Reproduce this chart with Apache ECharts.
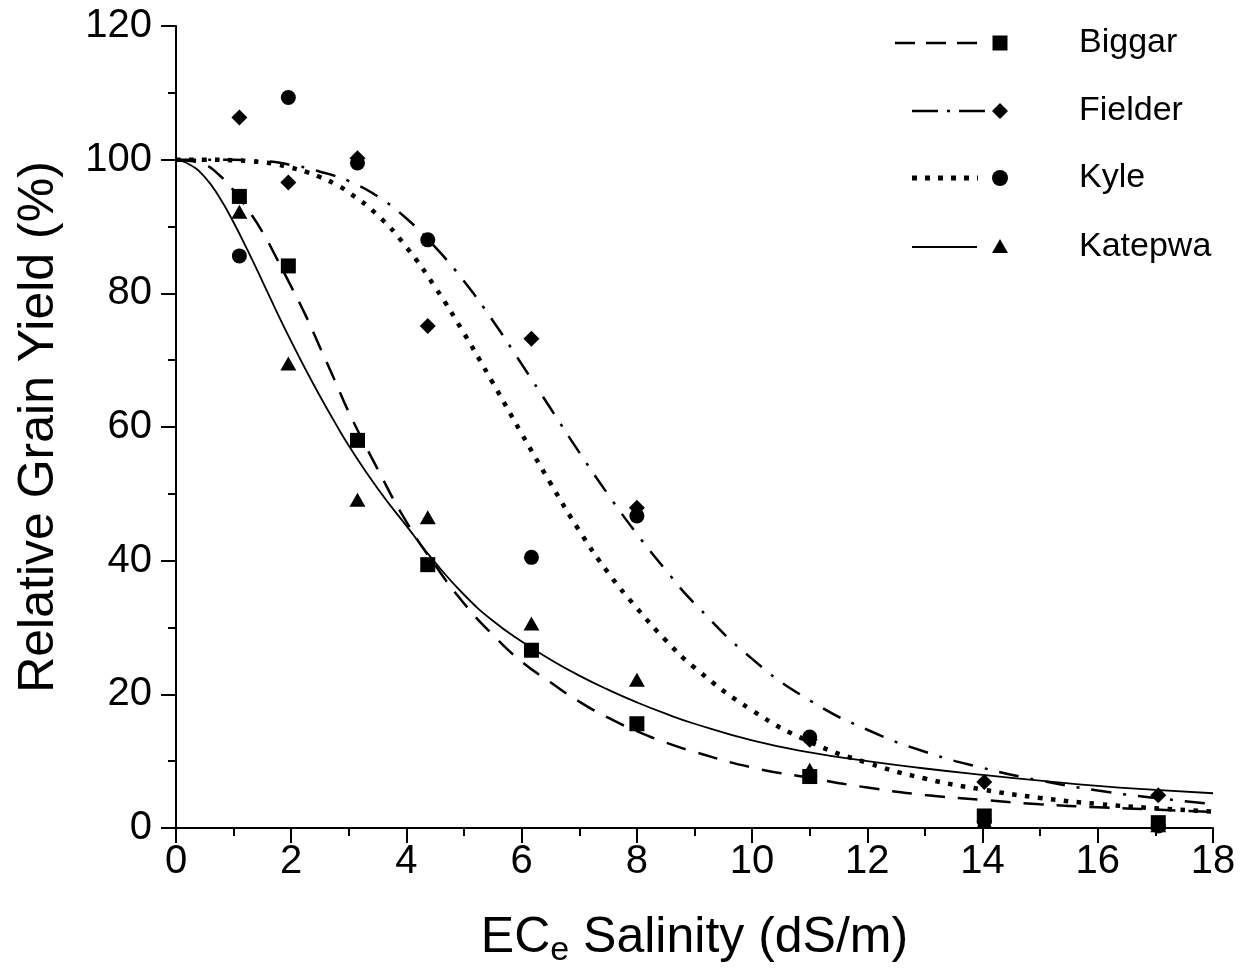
<!DOCTYPE html>
<html><head><meta charset="utf-8">
<script src="https://cdn.jsdelivr.net/npm/echarts@6/dist/echarts.min.js"></script>
<style>html,body{margin:0;padding:0;background:#fff}#c{width:1247px;height:968px}</style>
</head><body><div id="c"></div>
<script>
// ---- data ----
const seriesNames = ['Biggar', 'Fielder', 'Kyle', 'Katepwa'];
const xTicks = [0, 2, 4, 6, 8, 10, 12, 14, 16, 18];
const yTicks = [0, 20, 40, 60, 80, 100, 120];

// observed points (EC_e, relative yield %)
const obsX = [1.1, 1.95, 3.15, 4.37, 6.17, 8.0, 11.0, 14.03, 17.05];
const biggarObs  = [94.5, 84.1, 58.0, 39.4, 26.6, 15.6, 7.7, 1.8, 0.8];
const fielderObs = [106.3, 96.6, 100.2, 75.1, 73.2, 47.9, 13.2, 6.9, 4.9];
const kyleObs    = [85.6, 109.3, 99.5, 88.0, 40.5, 46.7, 13.6, 1.0, 0.3];
const katepwaObs = [92.2, 69.5, 49.1, 46.5, 30.6, 22.2, 8.7, 1.0, 0.4];

// fitted curves, values
const curveX      = [0, 0.25, 0.5, 0.75, 1, 1.25, 1.5, 1.75, 2, 2.25, 2.5, 2.75, 3, 3.5, 4, 4.5, 5, 5.5, 6, 6.5, 7, 7.5, 8, 8.5, 9, 10, 11, 12, 13, 14, 15, 16, 17, 18];
const biggarFit   = [100, 99.8, 99.3, 97.7, 95.4, 92.5, 89.2, 85.2, 81.0, 76.7, 71.9, 67.1, 62.2, 53.7, 45.8, 39.3, 33.6, 28.9, 24.9, 21.8, 18.9, 16.5, 14.5, 12.8, 11.4, 9.05, 7.5, 6.05, 4.95, 4.2, 3.55, 3.1, 2.75, 2.4];
const fielderFit  = [100, 100, 100, 100, 100, 99.9, 99.8, 99.6, 99.2, 98.8, 98.2, 97.6, 96.8, 94.5, 91.2, 86.9, 81.8, 75.9, 69.4, 62.8, 56.2, 49.9, 44.0, 38.6, 33.6, 25.3, 19.1, 14.7, 11.4, 9.0, 7.1, 5.6, 4.5, 3.6];
const kyleFit     = [100, 100, 100, 100, 99.9, 99.8, 99.6, 99.3, 98.8, 98.2, 97.4, 96.4, 95.1, 91.7, 86.9, 80.9, 74.0, 66.6, 59.0, 51.6, 44.5, 38.2, 32.9, 28.1, 24.0, 17.6, 12.9, 9.75, 7.4, 5.75, 4.5, 3.6, 2.95, 2.45];
const katepwaFit  = [100, 99.2, 97.4, 94.4, 90.6, 86.3, 81.8, 77.2, 72.8, 68.6, 64.6, 60.8, 57.2, 50.8, 45.2, 39.7, 34.9, 31.0, 27.9, 25.2, 22.8, 20.7, 18.8, 17.1, 15.6, 13.1, 11.3, 10.0, 8.9, 7.95, 7.1, 6.3, 5.7, 5.2];

const obsSets = [biggarObs, fielderObs, kyleObs, katepwaObs];
const fitSets = [biggarFit, fielderFit, kyleFit, katepwaFit];

// ---- styles ----
const FONT = 'Liberation Sans, Arial, sans-serif';
const lineStyles = [
  { width: 2.5, type: [20, 13] },
  { width: 2.5, type: [20, 12, 3, 12] },
  { width: 4.5, type: [4.5, 8.5] },
  { width: 1.8, type: 'solid' }
];
const symbols = ['rect', 'diamond', 'circle', 'triangle'];
const symbolSizes = [15, 16, 15, [16, 14]];

const pair = (xs, ys) => xs.map((x, i) => [x, ys[i]]);

const series = [];
seriesNames.forEach((name, i) => {
  series.push({
    name: name + ' fit', type: 'line', data: pair(curveX, fitSets[i]),
    smooth: 0.5, showSymbol: false, silent: true, z: 2,
    lineStyle: { color: '#000', width: lineStyles[i].width, type: lineStyles[i].type, cap: 'butt', opacity: 1 }
  });
});
seriesNames.forEach((name, i) => {
  series.push({
    name: name, type: 'scatter', data: pair(obsX, obsSets[i]),
    symbol: symbols[i], symbolSize: symbolSizes[i], z: 3,
    itemStyle: { color: '#000', opacity: 1 }
  });
});

// ---- legend (line sample + marker + label) ----
const rowY = [43, 111, 178, 247];
const legendLines = [
  { x1: 895, x2: 978, dash: [20, 11], w: 2.6 },
  { x1: 912, x2: 986, dash: [26, 9, 3, 9], w: 2.6 },
  { x1: 912, x2: 978, dash: [5, 8], w: 5 },
  { x1: 912, x2: 977, dash: null, w: 1.8 }
];
const graphic = [];
seriesNames.forEach((name, i) => {
  const y = rowY[i], cx = 1000;
  const L = legendLines[i];
  graphic.push({ type: 'line', shape: { x1: L.x1, y1: y, x2: L.x2, y2: y },
    style: { stroke: '#000', lineWidth: L.w, lineDash: L.dash, lineCap: 'butt' } });
  let mk;
  if (i === 0) mk = { type: 'rect', shape: { x: cx - 7.5, y: y - 7.5, width: 15, height: 15 } };
  else if (i === 1) mk = { type: 'polygon', shape: { points: [[cx, y - 8], [cx + 8, y], [cx, y + 8], [cx - 8, y]] } };
  else if (i === 2) mk = { type: 'circle', shape: { cx: cx, cy: y, r: 8 } };
  else mk = { type: 'polygon', shape: { points: [[cx, y - 8], [cx + 8, y + 6], [cx - 8, y + 6]] } };
  mk.style = { fill: '#000' };
  graphic.push(mk);
  graphic.push({ type: 'text', x: 1079, y: y,
    style: { text: name, fill: '#000', fontSize: 34, fontFamily: FONT, verticalAlign: 'middle', align: 'left' } });
});

const chart = echarts.init(document.getElementById('c'), null, { renderer: 'canvas' });
chart.setOption({
  backgroundColor: '#fff',
  animation: false,
  grid: { left: 176, right: 34, top: 26, bottom: 140, containLabel: false, outerBoundsMode: 'none' },
  xAxis: {
    type: 'value', min: xTicks[0], max: xTicks[xTicks.length - 1], interval: xTicks[1] - xTicks[0],
    name: '{a|EC}{b|e}{a| Salinity (dS/m)}', nameLocation: 'middle', nameGap: 80,
    nameTextStyle: {
      rich: {
        a: { fontSize: 50, fontFamily: FONT, color: '#000', lineHeight: 60 },
        b: { fontSize: 34, fontFamily: FONT, color: '#000', lineHeight: 34, verticalAlign: 'bottom' }
      }
    },
    axisLine: { show: true, onZero: false, lineStyle: { color: '#000', width: 2 } },
    axisTick: { show: true, inside: false, length: 15, lineStyle: { color: '#000', width: 2 } },
    minorTick: { show: true, splitNumber: 2, length: 8, lineStyle: { color: '#000', width: 2 } },
    axisLabel: { color: '#000', fontSize: 40, fontFamily: FONT, margin: 14,
      formatter: v => xTicks.includes(v) ? String(v) : '' },
    splitLine: { show: false }
  },
  yAxis: {
    type: 'value', min: yTicks[0], max: yTicks[yTicks.length - 1], interval: yTicks[1] - yTicks[0],
    name: 'Relative Grain Yield (%)', nameLocation: 'middle', nameGap: 112, nameRotate: 90,
    nameTextStyle: { fontSize: 50, fontFamily: FONT, color: '#000' },
    axisLine: { show: true, onZero: false, lineStyle: { color: '#000', width: 2 } },
    axisTick: { show: true, inside: false, length: 15, lineStyle: { color: '#000', width: 2 } },
    minorTick: { show: true, splitNumber: 2, length: 8, lineStyle: { color: '#000', width: 2 } },
    axisLabel: { color: '#000', fontSize: 40, fontFamily: FONT, margin: 24,
      formatter: v => yTicks.includes(v) ? String(v) : '' },
    splitLine: { show: false }
  },
  series: series,
  graphic: graphic
});
</script>
</body></html>
